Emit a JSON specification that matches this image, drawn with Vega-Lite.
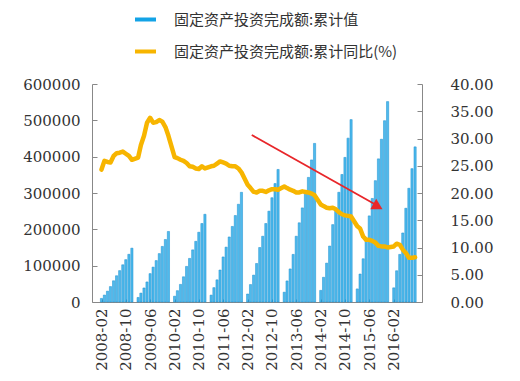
{
  "$schema": "https://vega.github.io/schema/vega-lite/v6.json",
  "width": 330,
  "height": 218,
  "padding": {"left": 22, "top": 12, "right": 10, "bottom": 5},
  "background": "white",
  "datasets": {
    "fai": [
      {"date": "2008-02-01", "value": 9914, "yoy": 24.3},
      {"date": "2008-03-01", "value": 19080, "yoy": 25.9},
      {"date": "2008-04-01", "value": 29790, "yoy": 25.7},
      {"date": "2008-05-01", "value": 42480, "yoy": 25.6},
      {"date": "2008-06-01", "value": 58436, "yoy": 26.8},
      {"date": "2008-07-01", "value": 72275, "yoy": 27.3},
      {"date": "2008-08-01", "value": 86372, "yoy": 27.4},
      {"date": "2008-09-01", "value": 102432, "yoy": 27.6},
      {"date": "2008-10-01", "value": 116561, "yoy": 27.2},
      {"date": "2008-11-01", "value": 131282, "yoy": 26.8},
      {"date": "2008-12-01", "value": 148167, "yoy": 26.1},
      {"date": "2009-02-01", "value": 12539, "yoy": 26.5},
      {"date": "2009-03-01", "value": 24431, "yoy": 28.8},
      {"date": "2009-04-01", "value": 38651, "yoy": 30.5},
      {"date": "2009-05-01", "value": 55201, "yoy": 32.9},
      {"date": "2009-06-01", "value": 78098, "yoy": 33.8},
      {"date": "2009-07-01", "value": 96000, "yoy": 32.9},
      {"date": "2009-08-01", "value": 114000, "yoy": 33.0},
      {"date": "2009-09-01", "value": 133230, "yoy": 33.4},
      {"date": "2009-10-01", "value": 153000, "yoy": 33.1},
      {"date": "2009-11-01", "value": 172000, "yoy": 32.1},
      {"date": "2009-12-01", "value": 194139, "yoy": 30.5},
      {"date": "2010-02-01", "value": 15946, "yoy": 26.6},
      {"date": "2010-03-01", "value": 31200, "yoy": 26.4},
      {"date": "2010-04-01", "value": 48500, "yoy": 26.1},
      {"date": "2010-05-01", "value": 69400, "yoy": 25.9},
      {"date": "2010-06-01", "value": 98000, "yoy": 25.5},
      {"date": "2010-07-01", "value": 120000, "yoy": 24.9},
      {"date": "2010-08-01", "value": 143500, "yoy": 24.8},
      {"date": "2010-09-01", "value": 167000, "yoy": 24.5},
      {"date": "2010-10-01", "value": 192000, "yoy": 24.4},
      {"date": "2010-11-01", "value": 216000, "yoy": 24.9},
      {"date": "2010-12-01", "value": 241415, "yoy": 24.5},
      {"date": "2011-02-01", "value": 19000, "yoy": 24.9},
      {"date": "2011-03-01", "value": 39500, "yoy": 25.0},
      {"date": "2011-04-01", "value": 61000, "yoy": 25.4},
      {"date": "2011-05-01", "value": 88000, "yoy": 25.8},
      {"date": "2011-06-01", "value": 124000, "yoy": 25.6},
      {"date": "2011-07-01", "value": 151000, "yoy": 25.4},
      {"date": "2011-08-01", "value": 179000, "yoy": 25.0},
      {"date": "2011-09-01", "value": 208000, "yoy": 24.9},
      {"date": "2011-10-01", "value": 238000, "yoy": 24.9},
      {"date": "2011-11-01", "value": 269000, "yoy": 24.5},
      {"date": "2011-12-01", "value": 301933, "yoy": 23.8},
      {"date": "2012-02-01", "value": 22000, "yoy": 21.5},
      {"date": "2012-03-01", "value": 48000, "yoy": 20.9},
      {"date": "2012-04-01", "value": 74000, "yoy": 20.2},
      {"date": "2012-05-01", "value": 106000, "yoy": 20.1},
      {"date": "2012-06-01", "value": 150000, "yoy": 20.4},
      {"date": "2012-07-01", "value": 181000, "yoy": 20.4},
      {"date": "2012-08-01", "value": 216000, "yoy": 20.2},
      {"date": "2012-09-01", "value": 250000, "yoy": 20.5},
      {"date": "2012-10-01", "value": 287000, "yoy": 20.7},
      {"date": "2012-11-01", "value": 326000, "yoy": 20.7},
      {"date": "2012-12-01", "value": 364835, "yoy": 20.6},
      {"date": "2013-02-01", "value": 27000, "yoy": 21.2},
      {"date": "2013-03-01", "value": 58000, "yoy": 20.9},
      {"date": "2013-04-01", "value": 91000, "yoy": 20.6},
      {"date": "2013-05-01", "value": 131000, "yoy": 20.4},
      {"date": "2013-06-01", "value": 181000, "yoy": 20.1},
      {"date": "2013-07-01", "value": 218000, "yoy": 20.1},
      {"date": "2013-08-01", "value": 259000, "yoy": 20.3},
      {"date": "2013-09-01", "value": 300000, "yoy": 20.2},
      {"date": "2013-10-01", "value": 343000, "yoy": 20.1},
      {"date": "2013-11-01", "value": 391000, "yoy": 19.9},
      {"date": "2013-12-01", "value": 436528, "yoy": 19.6},
      {"date": "2014-02-01", "value": 32000, "yoy": 17.9},
      {"date": "2014-03-01", "value": 68000, "yoy": 17.6},
      {"date": "2014-04-01", "value": 107000, "yoy": 17.3},
      {"date": "2014-05-01", "value": 154000, "yoy": 17.2},
      {"date": "2014-06-01", "value": 213000, "yoy": 17.3},
      {"date": "2014-07-01", "value": 256000, "yoy": 17.0},
      {"date": "2014-08-01", "value": 302000, "yoy": 16.5},
      {"date": "2014-09-01", "value": 351000, "yoy": 16.1},
      {"date": "2014-10-01", "value": 398000, "yoy": 15.9},
      {"date": "2014-11-01", "value": 451000, "yoy": 15.8},
      {"date": "2014-12-01", "value": 502005, "yoy": 15.7},
      {"date": "2015-02-01", "value": 36000, "yoy": 13.9},
      {"date": "2015-03-01", "value": 77000, "yoy": 13.5},
      {"date": "2015-04-01", "value": 119000, "yoy": 12.0},
      {"date": "2015-05-01", "value": 171000, "yoy": 11.4},
      {"date": "2015-06-01", "value": 237000, "yoy": 11.4},
      {"date": "2015-07-01", "value": 285000, "yoy": 11.2},
      {"date": "2015-08-01", "value": 334000, "yoy": 10.9},
      {"date": "2015-09-01", "value": 394000, "yoy": 10.3},
      {"date": "2015-10-01", "value": 448000, "yoy": 10.2},
      {"date": "2015-11-01", "value": 499000, "yoy": 10.2},
      {"date": "2015-12-01", "value": 551590, "yoy": 10.0},
      {"date": "2016-02-01", "value": 39000, "yoy": 10.2},
      {"date": "2016-03-01", "value": 86000, "yoy": 10.7},
      {"date": "2016-04-01", "value": 131000, "yoy": 10.5},
      {"date": "2016-05-01", "value": 190000, "yoy": 9.6},
      {"date": "2016-06-01", "value": 258000, "yoy": 9.0},
      {"date": "2016-07-01", "value": 313000, "yoy": 8.1},
      {"date": "2016-08-01", "value": 367000, "yoy": 8.1},
      {"date": "2016-09-01", "value": 427000, "yoy": 8.2}
    ],
    "arrow": [
      {"date": "2012-03-13", "value": 459600, "end": "2015-09-10", "v1": 262000}
    ],
    "tip": [
      {"date": "2015-08-26", "value": 262600}
    ]
  },
  "encoding": {
    "x": {
      "field": "date", "type": "temporal",
      "scale": {"type": "utc", "domain": ["2007-12-18", "2016-09-20"]},
      "axis": {
        "title": null,
        "labelExpr": "utcFormat(datum.value, '%Y-%m')",
        "labelAngle": -90,
        "labelOverlap": false,
        "values": ["2008-02-01", "2008-10-01", "2009-06-01", "2010-02-01", "2010-10-01", "2011-06-01", "2012-02-01", "2012-10-01", "2013-06-01", "2014-02-01", "2014-10-01", "2015-06-01", "2016-02-01"],
        "grid": false,
        "tickSize": -3,
        "labelPadding": 9,
        "domainColor": "#888888",
        "tickColor": "#888888"
      }
    }
  },
  "layer": [
    {
      "encoding": {
        "y": {
          "field": "value", "type": "quantitative",
          "scale": {"domain": [0, 600000], "nice": false},
          "axis": {
            "title": null,
            "orient": "left",
            "values": [0, 100000, 200000, 300000, 400000, 500000, 600000],
            "format": "d",
            "grid": false,
            "tickSize": -5,
            "labelPadding": 17,
            "domainColor": "#888888",
            "tickColor": "#888888"
          }
        }
      },
      "layer": [
        {
          "data": {"name": "fai"},
          "mark": {"type": "bar", "size": 2.2, "stroke": "#1a8fd0", "strokeWidth": 0.5, "fillOpacity": 0.75},
          "encoding": {
            "color": {
              "datum": "固定资产投资完成额:累计值",
              "scale": {"domain": ["固定资产投资完成额:累计值", "固定资产投资完成额:累计同比(%)"], "range": ["#13a3e6", "#f7b500"]},
              "legend": {
                "title": null,
                "orient": "none",
                "legendX": 46,
                "legendY": -72,
                "direction": "vertical",
                "symbolType": "M-2.1,-0.4H2.1V0.4H-2.1Z",
                "symbolSize": 100,
                "symbolStrokeWidth": 0,
                "rowPadding": 16,
                "labelOffset": 21,
                "labelLimit": 0,
                "labelFont": "Noto Sans CJK SC",
                "labelFontSize": 15,
                "labelColor": "#333333",
                "encode": {"symbols": {"update": {"fill": {"scale": "color", "field": "value"}, "fillOpacity": {"value": 1}, "opacity": {"value": 1}}}}
              }
            }
          }
        },
        {
          "data": {"name": "arrow"},
          "mark": {"type": "rule", "color": "#e8262a", "strokeWidth": 1.8},
          "encoding": {
            "x2": {"field": "end"},
            "y2": {"field": "v1"}
          }
        },
        {
          "data": {"name": "tip"},
          "mark": {"type": "point", "shape": "triangle-right", "filled": true, "fill": "#e8262a", "stroke": "#e8262a", "strokeWidth": 0, "opacity": 1, "size": 150, "angle": 29}
        }
      ]
    },
    {
      "data": {"name": "fai"},
      "mark": {"type": "line", "strokeWidth": 4.5, "strokeJoin": "round", "strokeCap": "round"},
      "encoding": {
        "y": {
          "field": "yoy", "type": "quantitative",
          "scale": {"domain": [0, 40], "nice": false},
          "axis": {
            "title": null,
            "orient": "right",
            "values": [0, 5, 10, 15, 20, 25, 30, 35, 40],
            "format": ".2f",
            "grid": false,
            "tickSize": -5,
            "labelPadding": 33,
            "domainColor": "#888888",
            "tickColor": "#888888"
          }
        },
        "color": {"datum": "固定资产投资完成额:累计同比(%)"}
      }
    }
  ],
  "resolve": {"scale": {"y": "independent"}},
  "config": {
    "view": {"stroke": null},
    "axis": {
      "labelFont": "DejaVu Serif",
      "labelFontSize": 15,
      "labelColor": "#333333"
    }
  }
}
